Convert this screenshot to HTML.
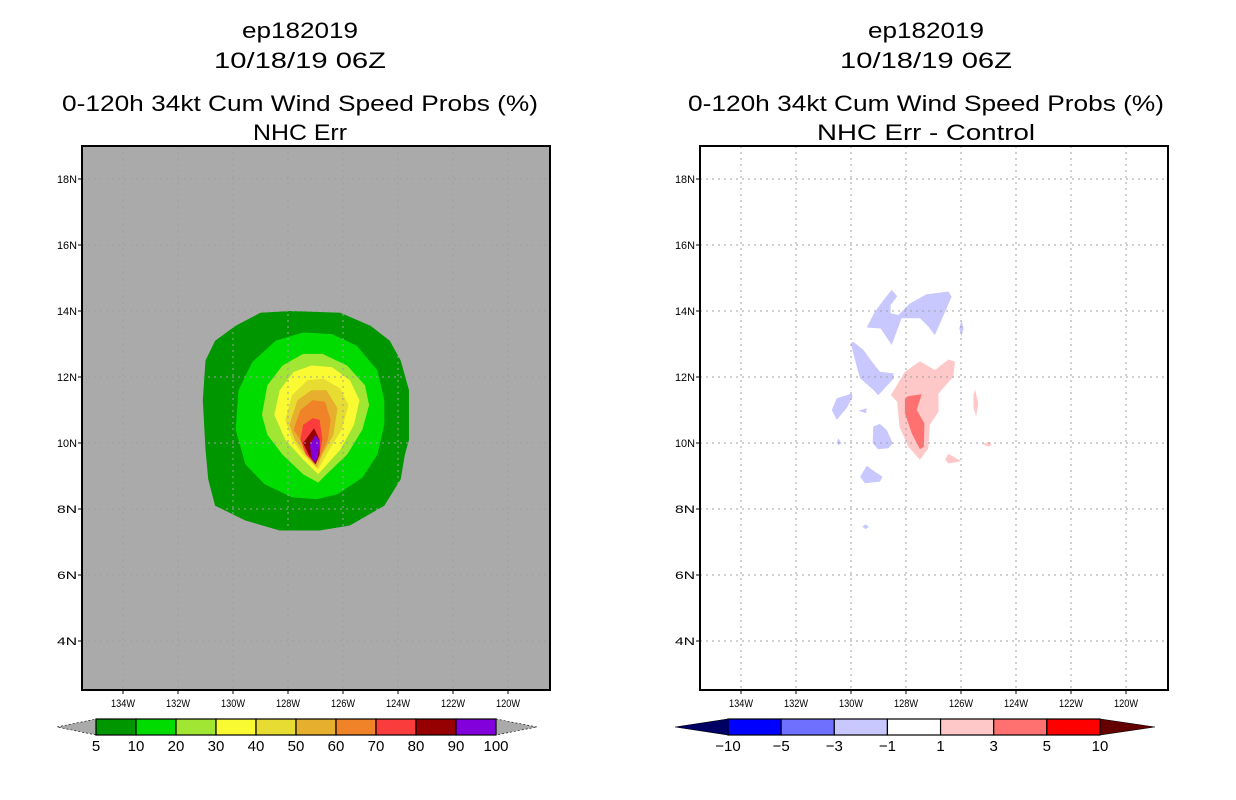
<!DOCTYPE html>
<html><head><meta charset="utf-8"><style>
html,body{margin:0;padding:0;background:#fff;}
svg{display:block;font-family:"Liberation Sans","DejaVu Sans",sans-serif;}
</style></head>
<body>
<svg id="fig" width="1236" height="800" viewBox="0 0 1236 800" xmlns="http://www.w3.org/2000/svg">
<rect x="0" y="0" width="1236" height="800" fill="#fff"/>
</svg>
<script>
// ---- data ----
const latTicks = [4,6,8,10,12,14,16,18];
const lonTicks = [134,132,130,128,126,124,122,120];
const probLevels = ["5","10","20","30","40","50","60","70","80","90","100"];
const probColors = ["#009600","#00dc00","#a0e632","#fafa32","#e6dc32","#e6af2d","#f08228","#fa3c3c","#960000","#8200dc"];
const diffLevels = ["-10","-5","-3","-1","1","3","5","10"];
const diffColors = ["#0000ff","#7070ff","#c8c8ff","#ffffff","#ffc8c8","#ff7070","#ff0000"];
// contour rings as [lonW, latN] pairs
const probRings = [
 [[131.1,11.3],[131.0,12.5],[130.65,13.1],[129.9,13.55],[129.0,13.95],[127.9,14.0],[126.1,13.95],[125.0,13.55],[124.3,13.1],[123.9,12.5],[123.6,11.6],[123.6,10.1],[123.75,9.65],[123.9,8.9],[124.5,8.1],[125.75,7.5],[126.85,7.35],[128.3,7.35],[129.55,7.65],[130.65,8.1],[130.9,8.9],[131.0,9.8]],
 [[129.9,10.4],[129.8,11.6],[129.3,12.45],[128.45,13.1],[127.45,13.35],[126.4,13.3],[125.5,12.95],[124.75,12.2],[124.5,11.3],[124.5,10.55],[124.75,9.65],[125.3,8.95],[126.2,8.45],[126.95,8.3],[127.85,8.35],[128.85,8.75],[129.55,9.35]],
 [[128.95,10.85],[128.75,11.75],[128.2,12.35],[127.45,12.7],[126.75,12.7],[125.85,12.35],[125.2,11.75],[125.05,11.15],[125.3,10.4],[125.85,9.65],[126.6,9.05],[126.9,8.8],[127.45,9.05],[128.2,9.65],[128.75,10.25]],
 [[128.5,10.85],[128.3,11.6],[127.8,12.15],[127.15,12.35],[126.4,12.3],[125.75,11.9],[125.4,11.3],[125.6,10.55],[126.1,9.8],[126.9,9.05],[127.45,9.5],[128.1,10.1]],
 [[128.1,10.7],[127.85,11.45],[127.3,11.9],[126.7,11.95],[126.1,11.65],[125.8,11.15],[126.05,10.4],[126.5,9.8],[126.9,9.2],[127.45,9.65],[127.85,10.1]],
 [[127.95,10.55],[127.65,11.3],[127.15,11.6],[126.6,11.6],[126.2,11.05],[126.35,10.25],[126.75,9.65],[126.95,9.25],[127.35,9.65],[127.75,10.1]],
 [[127.8,10.4],[127.55,11.0],[127.1,11.3],[126.65,11.25],[126.45,10.7],[126.55,10.1],[126.9,9.45],[127.3,9.8]],
 [[127.55,10.1],[127.45,10.55],[127.1,10.75],[126.85,10.7],[126.75,10.1],[126.85,9.65],[127.0,9.35],[127.35,9.65]],
 [[127.05,10.45],[127.45,10.0],[127.25,9.65],[127.0,9.35],[126.85,9.65],[126.85,10.1]],
 [[127.0,10.25],[127.2,9.95],[127.15,9.55],[127.0,9.4],[126.9,9.65],[126.85,10.05]]
];
const diffBlue = [
 [[129.43,13.50],[129.13,13.98],[128.82,14.33],[128.52,14.64],[128.32,14.45],[128.56,14.18],[128.56,13.93],[128.28,13.88],[127.85,14.23],[127.25,14.51],[126.46,14.59],[126.34,14.43],[126.58,13.98],[126.95,13.27],[127.19,13.53],[127.49,13.78],[128.16,13.78],[128.52,12.97],[128.92,13.47]],
 [[126.06,13.47],[125.98,13.73],[125.91,13.47],[125.98,13.22]],
 [[130.01,13.02],[129.92,13.07],[129.55,12.82],[129.19,12.41],[128.95,12.16],[128.46,12.11],[128.44,11.96],[129.01,11.45],[129.19,11.61],[129.67,11.96],[129.79,12.31]],
 [[130.70,11.00],[130.52,11.35],[129.98,11.50],[129.94,11.40],[130.16,11.05],[130.52,10.70]],
 [[129.73,10.98],[129.43,11.05],[129.45,10.90]],
 [[129.19,10.50],[128.95,10.58],[128.70,10.39],[128.48,9.99],[128.64,9.84],[129.01,9.81],[129.21,9.99]],
 [[130.52,10.01],[130.46,10.14],[130.34,9.99],[130.46,9.94]],
 [[129.67,8.98],[129.43,9.31],[129.13,9.13],[128.85,8.98],[128.95,8.83],[129.49,8.78]],
 [[129.59,7.46],[129.47,7.54],[129.35,7.46],[129.47,7.39]]
];
const diffPink = [
 [[128.55,11.45],[128.04,12.16],[127.49,12.48],[126.95,12.21],[126.46,12.53],[126.22,12.46],[126.28,12.01],[126.82,11.50],[126.82,10.95],[127.13,10.55],[127.19,9.84],[127.49,9.49],[127.92,9.89],[128.24,10.49],[128.32,11.25]],
 [[125.55,11.45],[125.49,11.63],[125.37,11.20],[125.45,10.80],[125.55,11.10]],
 [[126.58,9.49],[126.46,9.67],[125.98,9.45],[126.46,9.38]],
 [[125.21,9.97],[124.95,10.04],[124.89,9.94],[125.01,9.89]]
];
const diffRed = [
 [[128.04,11.35],[127.92,11.42],[127.43,11.48],[127.61,11.00],[127.33,10.60],[127.35,9.89],[127.49,9.81],[127.79,10.29],[128.04,10.90]]
];
// ---- layout ----
const S = document.getElementById('fig');
const NS = 'http://www.w3.org/2000/svg';
function mk(tag, attrs, parent){const e=document.createElementNS(NS,tag);for(const k in attrs)e.setAttribute(k,attrs[k]);(parent||S).appendChild(e);return e;}
const PX0 = 82, PY0 = 146, PW = 468, PH = 544, RX0 = 700;
function xs(ox){return lonW => ox + 41 + (134 - lonW) * 27.5;}
function ys(lat){return 443 - (lat - 10) * 33;}
function ringPath(ring, X){return ring.map((p,i)=>(i?'L':'M')+X(p[0]).toFixed(1)+' '+ys(p[1]).toFixed(1)).join('')+'Z';}

function txt(x,y,s,size,anchor,name,len){
  const t=mk('text',{x:x,y:y,'font-size':size,'text-anchor':anchor||'middle',fill:'#000'});
  if(len){t.setAttribute('textLength',len);t.setAttribute('lengthAdjust','spacingAndGlyphs');}
  t.textContent=s;
  
  
  return t;
}

function panel(ox, bg, title4, t4len, which){
  const cx = ox===PX0 ? 300 : 926;
  txt(cx,38,'ep182019',22,'middle','title-storm-id',116);
  txt(cx,68,'10/18/19 06Z',22,'middle','title-date',172);
  txt(cx,111,'0-120h 34kt Cum Wind Speed Probs (%)',22,'middle','title-product',476);
  txt(cx,140,title4,22,'middle','subtitle',t4len);
  const g = mk('g',{});
  
  
  const bgR = mk('rect',{x:ox,y:PY0,width:PW,height:PH,fill:bg},g);
  
  
  const cp = mk('clipPath',{id:'clip'+which},g);
  mk('rect',{x:ox,y:PY0,width:PW,height:PH},cp);
  const cg = mk('g',{'clip-path':'url(#clip'+which+')'},g);
  const X = xs(ox);
  if(which==='left'){
    probRings.forEach((r,i)=>{
      const p=mk('path',{d:ringPath(r,X),fill:probColors[i]},cg);
      
      
    });
  } else {
    diffBlue.forEach(r=>{const p=mk('path',{d:ringPath(r,X),fill:diffColors[2]},cg);
      
      });
    diffPink.forEach(r=>{const p=mk('path',{d:ringPath(r,X),fill:diffColors[4]},cg);
      
      });
    diffRed.forEach(r=>{const p=mk('path',{d:ringPath(r,X),fill:diffColors[5]},cg);
      
      });
  }
  lonTicks.forEach(l=>{const x=X(l);
    const gl=mk('line',{x1:x,y1:PY0,x2:x,y2:PY0+PH,stroke:'#a0a0a0','stroke-width':1,'stroke-dasharray':'2,4'},cg);
    
    
    const tk=mk('line',{x1:x,y1:PY0+PH,x2:x,y2:PY0+PH+4,stroke:'#000'},g);
    
    
    txt(x,PY0+PH+17,l+'W',11,'middle','x-tick-label',24);
  });
  latTicks.forEach(l=>{const y=ys(l);
    const gl=mk('line',{x1:ox,y1:y,x2:ox+PW,y2:y,stroke:'#a0a0a0','stroke-width':1,'stroke-dasharray':'2,4'},cg);
    
    
    const tk=mk('line',{x1:ox-4,y1:y,x2:ox,y2:y,stroke:'#000'},g);
    
    
    txt(ox-5,y+4,l+'N',11,'end','y-tick-label',20);
  });
  const fr=mk('rect',{x:ox,y:PY0,width:PW,height:PH,fill:'none',stroke:'#000','stroke-width':2},g);
  
  
}
panel(PX0,'#aaaaaa','NHC Err',94,'left');
panel(RX0,'#ffffff','NHC Err - Control',218,'right');

function colorbar(x0,x1,tipL,tipR,colors,labels,lc,rc,name){
  const g=mk('g',{});
  
  
  const y0=719,y1=735,ym=727;
  const n=colors.length, w=(x1-x0)/n;
  const tl=mk('polygon',{points:`${tipL},${ym} ${x0},${y0} ${x0},${y1}`,fill:lc,stroke:'#000','stroke-width':0.6,'stroke-dasharray':lc==='#aaaaaa'?'2,2':''},g);
  
  
  const tr=mk('polygon',{points:`${tipR},${ym} ${x1},${y0} ${x1},${y1}`,fill:rc,stroke:'#000','stroke-width':0.6,'stroke-dasharray':rc==='#aaaaaa'?'2,2':''},g);
  
  
  colors.forEach((c,i)=>{
    const r=mk('rect',{x:x0+i*w,y:y0,width:w,height:y1-y0,fill:c,stroke:'#000','stroke-width':1.2},g);
    
    
  });
  labels.forEach((s,i)=>{
    txt(x0+i*w,751,s.replace('-','\u2212'),15,'middle','colorbar-label');
  });
}
colorbar(96,496,57,537,probColors,probLevels,'#aaaaaa','#aaaaaa','prob-colorbar');
colorbar(728,1100,675,1155,diffColors,diffLevels,'#000064','#640000','diff-colorbar');
</script>
</body></html>
